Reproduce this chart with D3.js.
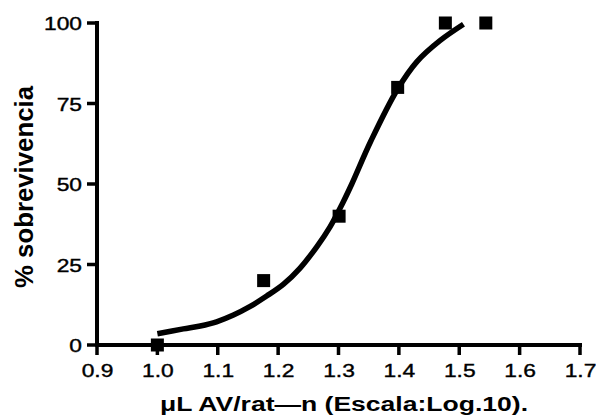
<!DOCTYPE html>
<html><head><meta charset="utf-8">
<script src="https://cdn.jsdelivr.net/npm/d3@7"></script>
<style>body{margin:0;background:#fff}</style></head>
<body>
<svg id="c" width="596" height="419"></svg>
<script>
const xTicks = [0.9, 1.0, 1.1, 1.2, 1.3, 1.4, 1.5, 1.6, 1.7];
const yTicks = [0, 25, 50, 75, 100];
const pointX = [1.000, 1.176, 1.301, 1.398, 1.477, 1.544];
const pointY = [0, 20, 40, 80, 100, 100];
const curveX = [1.000, 1.043, 1.071, 1.098, 1.126, 1.153, 1.181, 1.209, 1.236, 1.264, 1.286, 1.308, 1.322, 1.354, 1.397, 1.430, 1.468, 1.507];
const curveY = [3.5, 5.0, 5.9, 7.2, 9.3, 11.9, 15.2, 18.9, 23.8, 30.5, 36.7, 44.5, 50.0, 63.5, 79.2, 88.0, 94.5, 99.6];
const xTitle = "μL AV/rat—n (Escala:Log.10).";
const yTitle = "% sobrevivencia";

(function () {
const svg = d3.select("#c");
const mLeft = 97, mRight = 580, mTop = 23, mBottom = 345;
const x = d3.scaleLinear().domain([0.9, 1.7]).range([mLeft, mRight]);
const y = d3.scaleLinear().domain([0, 100]).range([mBottom, mTop]);
const font = "'Liberation Sans', Arial, sans-serif";
const sx = 1.2;
const tick = 10, aw = 4, tw = 3.5;

const line = d3.line().x(d => x(d[0])).y(d => y(d[1])).curve(d3.curveCatmullRom.alpha(0.5));
svg.append("path").datum(curveX.map((v, i) => [v, curveY[i]]))
  .attr("d", line).attr("fill", "none").attr("stroke", "#000").attr("stroke-width", 5.5);

const gx = svg.append("g").attr("transform", `translate(0,${mBottom})`);
gx.call(d3.axisBottom(x).tickValues(xTicks).tickFormat(d3.format(".1f")).tickSize(tick).tickSizeOuter(0).tickPadding(9));
const gy = svg.append("g").attr("transform", `translate(${mLeft},0)`);
gy.call(d3.axisLeft(y).tickValues(yTicks).tickFormat(d3.format("d")).tickSize(tick).tickSizeOuter(0).tickPadding(5));

[gx, gy].forEach(g => {
  g.selectAll("g.tick text").attr("fill", "#000").attr("font-family", font).attr("font-size", 19)
    .attr("stroke", "#000").attr("stroke-width", 0.4);
});
gx.selectAll("g.tick text").attr("transform", `scale(${sx},1)`);
gy.selectAll("g.tick text").attr("x", -15 / sx).attr("dy", "0.36em").attr("transform", `scale(${sx},1)`);

// heavy axis lines and ticks as filled rectangles, placed with the same scales
const ax = svg.append("g").attr("fill", "#000");
ax.append("rect").attr("x", x(0.9) - aw / 2).attr("y", y(0) - aw / 2)
  .attr("width", x(1.7) - x(0.9) + aw).attr("height", aw);
ax.append("rect").attr("x", x(0.9) - aw / 2).attr("y", y(100) - aw / 2)
  .attr("width", aw).attr("height", y(0) - y(100) + aw);
ax.selectAll("rect.xt").data(xTicks).join("rect").attr("class", "xt")
  .attr("x", d => x(d) - tw / 2).attr("y", y(0)).attr("width", tw).attr("height", tick);
ax.selectAll("rect.yt").data(yTicks).join("rect").attr("class", "yt")
  .attr("x", x(0.9) - tick).attr("y", d => y(d) - tw / 2).attr("width", tick).attr("height", tw);

const s = 13;
svg.append("g").selectAll("rect").data(pointX.map((v, i) => [v, pointY[i]])).join("rect")
  .attr("x", d => x(d[0]) - s / 2).attr("y", d => y(d[1]) - s / 2)
  .attr("width", s).attr("height", s).attr("fill", "#000");

svg.append("text").attr("x", 344).attr("y", 411).attr("text-anchor", "middle")
  .attr("font-family", font).attr("font-weight", "bold").attr("font-size", 20)
  .attr("textLength", 368).attr("lengthAdjust", "spacingAndGlyphs").text(xTitle);
svg.append("text").attr("transform", "translate(33,187) rotate(-90)").attr("text-anchor", "middle")
  .attr("font-family", font).attr("font-weight", "bold").attr("font-size", 25)
  .attr("textLength", 202).attr("lengthAdjust", "spacingAndGlyphs").text(yTitle);
})();
</script>
</body></html>
